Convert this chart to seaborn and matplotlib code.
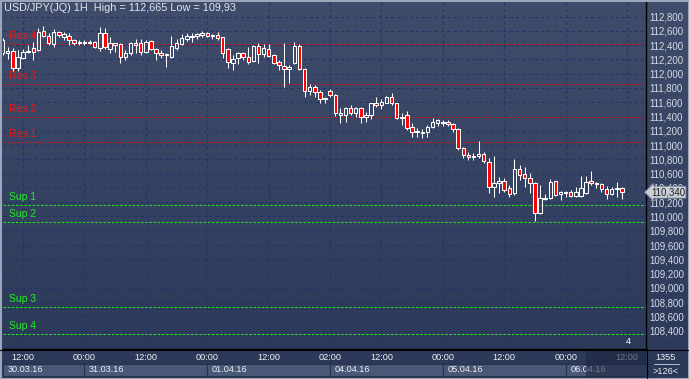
import numpy as np
import pandas as pd
import matplotlib
matplotlib.use("Agg")
import matplotlib.pyplot as plt
from matplotlib.patches import Rectangle
from matplotlib.lines import Line2D
import seaborn as sns

sns.set_style("dark")
plt.rcParams['font.family'] = ['Liberation Sans', 'DejaVu Sans']

# ---- data (USD/JPY 1H candles) ----
bar_open = [
    112.29, 112.29, 112.32, 112.08, 112.22, 112.30, 112.36, 112.33, 112.60, 112.53,
    112.41, 112.58, 112.51, 112.53, 112.47, 112.43, 112.43, 112.43, 112.44, 112.36,
    112.57, 112.34, 112.40, 112.41, 112.23, 112.29, 112.40, 112.43, 112.30, 112.46,
    112.34, 112.29, 112.26, 112.23, 112.36, 112.41, 112.48, 112.51, 112.53, 112.54,
    112.57, 112.53, 112.54, 112.51, 112.34, 112.15, 112.22, 112.29, 112.23, 112.18,
    112.39, 112.27, 112.34, 112.26, 112.16, 112.11, 112.06, 112.15, 112.39, 112.06,
    111.76, 111.81, 111.74, 111.64, 111.76, 111.70, 111.42, 111.42, 111.52, 111.45,
    111.52, 111.39, 111.42, 111.59, 111.56, 111.59, 111.67, 111.59, 111.38, 111.42,
    111.25, 111.18, 111.17, 111.18, 111.25, 111.31, 111.31, 111.32, 111.29, 111.22,
    110.96, 110.86, 110.83, 110.85, 110.87, 110.76, 110.41, 110.47, 110.50, 110.40,
    110.33, 110.67, 110.60, 110.54, 110.47, 110.05, 110.24, 110.26, 110.50, 110.31,
    110.33, 110.34, 110.29, 110.29, 110.33, 110.50, 110.45, 110.45, 110.38, 110.31,
    110.38, 110.40,
]
bar_high = [
    112.50, 112.37, 112.36, 112.33, 112.34, 112.40, 112.44, 112.64, 112.665, 112.57,
    112.62, 112.60, 112.58, 112.57, 112.48, 112.47, 112.47, 112.47, 112.46, 112.66,
    112.64, 112.51, 112.43, 112.43, 112.33, 112.44, 112.48, 112.48, 112.47, 112.47,
    112.36, 112.33, 112.29, 112.53, 112.48, 112.55, 112.57, 112.57, 112.57, 112.60,
    112.58, 112.55, 112.58, 112.52, 112.36, 112.26, 112.30, 112.30, 112.37, 112.40,
    112.43, 112.41, 112.41, 112.27, 112.19, 112.43, 112.12, 112.44, 112.41, 112.08,
    111.85, 111.84, 111.77, 111.67, 111.78, 111.71, 111.52, 111.53, 111.56, 111.53,
    111.53, 111.46, 111.59, 111.67, 111.64, 111.69, 111.73, 111.59, 111.45, 111.48,
    111.31, 111.24, 111.22, 111.28, 111.38, 111.37, 111.35, 111.35, 111.31, 111.24,
    110.97, 110.90, 110.89, 111.06, 110.90, 110.82, 110.85, 110.55, 110.54, 110.44,
    110.80, 110.72, 110.69, 110.61, 110.48, 110.44, 110.31, 110.52, 110.50, 110.36,
    110.36, 110.37, 110.41, 110.57, 110.57, 110.64, 110.48, 110.47, 110.43, 110.41,
    110.48, 110.41,
]
bar_low = [
    112.26, 112.20, 112.04, 112.04, 112.20, 112.29, 112.19, 112.32, 112.51, 112.40,
    112.37, 112.51, 112.47, 112.40, 112.40, 112.40, 112.40, 112.41, 112.36, 112.32,
    112.34, 112.29, 112.30, 112.15, 112.19, 112.26, 112.29, 112.26, 112.29, 112.33,
    112.19, 112.22, 112.09, 112.22, 112.33, 112.40, 112.46, 112.44, 112.48, 112.51,
    112.51, 112.48, 112.47, 112.22, 112.08, 112.05, 112.13, 112.19, 112.13, 112.16,
    112.15, 112.23, 112.23, 112.13, 112.05, 111.81, 111.87, 112.13, 112.05, 111.67,
    111.70, 111.67, 111.59, 111.59, 111.67, 111.41, 111.31, 111.32, 111.42, 111.39,
    111.31, 111.32, 111.37, 111.53, 111.50, 111.59, 111.56, 111.37, 111.28, 111.21,
    111.11, 111.11, 111.10, 111.11, 111.24, 111.27, 111.27, 111.27, 111.18, 110.93,
    110.82, 110.79, 110.79, 110.82, 110.75, 110.33, 110.27, 110.33, 110.34, 110.27,
    110.30, 110.51, 110.41, 110.33, 109.93, 110.03, 110.23, 110.24, 110.29, 110.23,
    110.27, 110.27, 110.27, 110.27, 110.31, 110.44, 110.40, 110.34, 110.24, 110.30,
    110.27, 110.24,
]
bar_close = [
    112.47, 112.32, 112.08, 112.23, 112.30, 112.32, 112.30, 112.58, 112.53, 112.43,
    112.58, 112.54, 112.55, 112.47, 112.43, 112.44, 112.44, 112.45, 112.37, 112.57,
    112.37, 112.43, 112.43, 112.23, 112.29, 112.43, 112.43, 112.30, 112.44, 112.34,
    112.29, 112.26, 112.27, 112.39, 112.43, 112.50, 112.53, 112.53, 112.55, 112.57,
    112.53, 112.54, 112.50, 112.29, 112.16, 112.20, 112.29, 112.23, 112.16, 112.39,
    112.27, 112.36, 112.25, 112.15, 112.12, 112.06, 112.09, 112.39, 112.06, 111.76,
    111.81, 111.74, 111.64, 111.66, 111.70, 111.45, 111.45, 111.52, 111.45, 111.52,
    111.39, 111.42, 111.59, 111.56, 111.60, 111.67, 111.59, 111.38, 111.39, 111.24,
    111.18, 111.20, 111.18, 111.25, 111.32, 111.35, 111.32, 111.29, 111.22, 110.96,
    110.86, 110.83, 110.85, 110.87, 110.78, 110.41, 110.47, 110.50, 110.37, 110.31,
    110.67, 110.58, 110.54, 110.47, 110.05, 110.26, 110.26, 110.48, 110.30, 110.34,
    110.34, 110.29, 110.34, 110.40, 110.48, 110.47, 110.47, 110.38, 110.31, 110.38,
    110.40, 110.34,
]

res_levels = [111.05, 111.39, 111.86, 112.42]
res_names = ["Res 1", "Res 2", "Res 3", "Res 4"]
sup_levels = [110.16, 109.92, 108.73, 108.36]
sup_names = ["Sup 1", "Sup 2", "Sup 3", "Sup 4"]

price_ticks = [108.4, 108.6, 108.8, 109.0, 109.2, 109.4, 109.6, 109.8, 110.0, 110.2, 110.4,
               110.6, 110.8, 111.0, 111.2, 111.4, 111.6, 111.8, 112.0, 112.2, 112.4, 112.6, 112.8]
last_price = 110.340
title_text = "USD/JPY(JQ) 1H  High = 112,665 Low = 109,93"

# hourly slots: bars + a few empty future slots on the right
slots = list(pd.date_range("2016-03-30 08:00", "2016-04-01 21:00", freq="h")) + \
        list(pd.date_range("2016-04-04 00:00", "2016-04-06 15:00", freq="h"))
time_ticks = ["2016-03-30 12:00", "2016-03-31 00:00", "2016-03-31 12:00", "2016-04-01 00:00",
              "2016-04-01 12:00", "2016-04-04 02:00", "2016-04-04 12:00", "2016-04-05 00:00",
              "2016-04-05 12:00", "2016-04-06 00:00", "2016-04-06 12:00"]
day_labels = ["30.03.16", "31.03.16", "01.04.16", "04.04.16", "05.04.16", "06.04.16"]
day_box_start = [None, "2016-03-31 00:00", "2016-04-01 00:00", "2016-04-04 02:00",
                 "2016-04-05 00:00", "2016-04-06 00:00"]
shade_from = "2016-04-06 04:00"

# ---- figure ----
W, H = 689, 379
fig = plt.figure(figsize=(W / 100, H / 100), dpi=100)


def px_box(x0, y0, x1, y1):
    return [x0 / W, 1 - y1 / H, (x1 - x0) / W, (y1 - y0) / H]


bg = fig.add_axes([0, 0, 1, 1])
grad = np.linspace(0, 1, 256).reshape(-1, 1)
bg.imshow(grad, aspect="auto", extent=[0, 1, 0, 1], transform=bg.transAxes,
          cmap=matplotlib.colors.LinearSegmentedColormap.from_list("g", ["#3f4c6a", "#2b3858"]))
bg.set_axis_off()

ax = fig.add_axes(px_box(3, 2, 646, 349))
ax.set_facecolor("none")

pos = np.arange(len(bar_open))
o = np.array(bar_open)
h = np.array(bar_high)
l = np.array(bar_low)
c = np.array(bar_close)
up = c >= o
top = np.maximum(o, c)
bot = np.minimum(o, c)

tick_pos = [slots.index(pd.Timestamp(t)) for t in time_ticks]

ax.set_xlim(0.09, 125.7)
ax.set_ylim(108.144, 113.004)
ax.set_xticks(tick_pos)
ax.set_xticklabels([])
ax.set_yticks(price_ticks)
ax.set_yticklabels([f"{v:.3f}".replace(".", ",") for v in price_ticks])
ax.yaxis.tick_right()
ax.tick_params(axis="y", length=0, pad=2.5, labelsize=6.9, labelcolor="#d6dce8")
ax.tick_params(axis="x", length=0)
ax.grid(True, color="#1d3868", linestyle=(0, (3, 3)), linewidth=0.75)
for s in ["left", "top"]:
    ax.spines[s].set_visible(False)
ax.spines["right"].set_color("black")
ax.spines["bottom"].set_color("black")
ax.spines["right"].set_linewidth(1.0)
ax.spines["bottom"].set_linewidth(1.0)

# support / resistance
yx = ax.get_yaxis_transform()
for lvl, name in zip(res_levels, res_names):
    ax.axhline(lvl, color="#d01818", linestyle=(0, (2, 1.5)), linewidth=0.75, zorder=2)
    ax.annotate(name, xy=(0.0095, lvl), xycoords=yx, xytext=(0, 5.6), textcoords="offset points",
                ha="left", va="center", color="#ff1010", fontsize=7.5, zorder=2)
for lvl, name in zip(sup_levels, sup_names):
    ax.axhline(lvl, color="#22dd22", linestyle=(0, (2.5, 1.5)), linewidth=0.75, zorder=2)
    ax.annotate(name, xy=(0.0095, lvl), xycoords=yx, xytext=(0, 5.6), textcoords="offset points",
                ha="left", va="center", color="#22ee22", fontsize=7.5, zorder=2)

# candles
ax.vlines(pos, top, h, color="white", linewidth=0.75, zorder=3)
ax.vlines(pos, l, bot, color="white", linewidth=0.75, zorder=3)
ax.bar(pos[up], (c - o)[up], bottom=o[up], width=0.68, facecolor="none",
       edgecolor="white", linewidth=0.75, zorder=4)
ax.bar(pos[~up], (o - c)[~up], bottom=c[~up], width=0.68, facecolor="#ff0000",
       edgecolor="white", linewidth=0.75, zorder=4)

fig.text(4 / W, 1 - 8 / H, title_text, color="#e2e6ee", fontsize=7.8, va="center", ha="left")
ax.text(0.972, 0.023, "4", transform=ax.transAxes, color="white", fontsize=6.5, ha="center", va="center")

# last price tag
ax.annotate(f"{last_price:.3f}".replace(".", ","), xy=(1, last_price), xycoords=yx,
            xytext=(3.5, 0), textcoords="offset points", ha="left", va="center",
            fontsize=6.9, color="#202020", annotation_clip=False, zorder=6,
            bbox=dict(boxstyle="larrow,pad=0.1", fc="#c9ced8", ec="#7c8498", lw=0.6))

# ---- time strip ----
tx = fig.add_axes(px_box(3, 350, 646, 377))
tx.set_facecolor("#36445f")
tx.set_xlim(ax.get_xlim())
tx.set_ylim(0, 1)
tx.set_axis_off()
edges = [tx.get_xlim()[0] if d is None else slots.index(pd.Timestamp(d)) for d in day_box_start]
edges.append(tx.get_xlim()[1])
for i, lab in enumerate(day_labels):
    tx.add_patch(Rectangle((edges[i], 0.03), edges[i + 1] - edges[i], 0.47,
                           facecolor="#4a5878", edgecolor="#283350", linewidth=0.8))
    tx.text(edges[i] + 0.9, 0.27, lab, color="#eef0f4", fontsize=6.6, ha="left", va="center")
for p, t in zip(tick_pos, time_ticks):
    tx.text(p, 0.72, t[-5:], color="#eef0f4", fontsize=6.6, ha="center", va="center")
sx = slots.index(pd.Timestamp(shade_from))
tx.add_patch(Rectangle((sx, 0), tx.get_xlim()[1] - sx, 1, facecolor="#1d2742", alpha=0.6,
                       edgecolor="none", zorder=5))

# corner box
fig.text(666 / W, 1 - 357 / H, "1355", color="#eef0f4", fontsize=6.6, ha="center", va="center")
fig.add_artist(Line2D([654 / W, 679 / W], [1 - 364 / H, 1 - 364 / H], color="#d0d4de", lw=0.6))
fig.text(666 / W, 1 - 371 / H, ">126<", color="#eef0f4", fontsize=6.6, ha="center", va="center")
fig.add_artist(Line2D([646.5 / W, 646.5 / W], [0, 1 - 349 / H], color="black", lw=0.8))
fig.add_artist(Line2D([0, 1], [1 - 349.5 / H, 1 - 349.5 / H], color="black", lw=0.8))

# outer frame
fig.add_artist(Rectangle((0, 0), 1, 1, transform=fig.transFigure, fill=False,
                         edgecolor="#9ba6ba", linewidth=2.2))

fig.savefig("out.png", dpi=100)
